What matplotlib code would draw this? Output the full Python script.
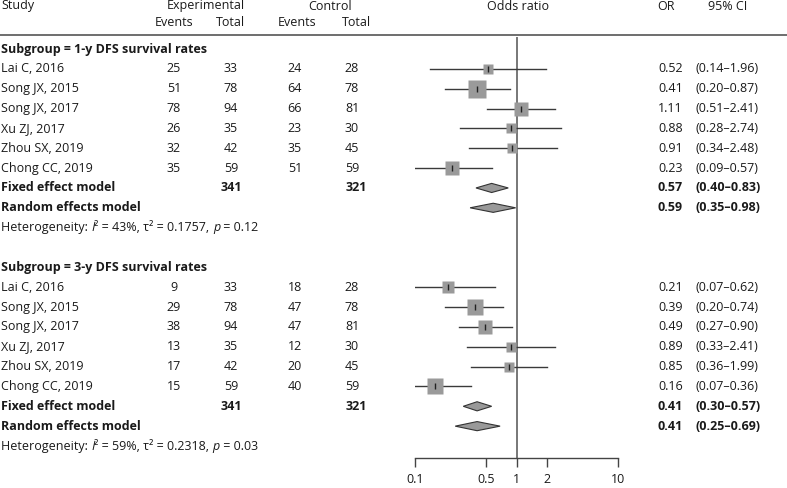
import matplotlib
matplotlib.use("Agg")
import numpy as np
import matplotlib.pyplot as plt
from matplotlib.transforms import blended_transform_factory
from matplotlib.lines import Line2D

plt.rcParams['font.family'] = ['Open Sans', 'DejaVu Sans']

# data
studies = ["Lai C, 2016", "Song JX, 2015", "Song JX, 2017",
           "Xu ZJ, 2017", "Zhou SX, 2019", "Chong CC, 2019"]
exp_total = [33, 78, 94, 35, 42, 59]
ctrl_total = [28, 78, 81, 30, 45, 59]

subgroups = ["1-y DFS survival rates", "3-y DFS survival rates"]
exp_events = [[25, 51, 78, 26, 32, 35], [9, 29, 38, 13, 17, 15]]
ctrl_events = [[24, 64, 66, 23, 35, 51], [18, 47, 47, 12, 20, 40]]
odds = [[0.52, 0.41, 1.11, 0.88, 0.91, 0.23], [0.21, 0.39, 0.49, 0.89, 0.85, 0.16]]
ci_lo = [[0.14, 0.20, 0.51, 0.28, 0.34, 0.09], [0.07, 0.20, 0.27, 0.33, 0.36, 0.07]]
ci_hi = [[1.96, 0.87, 2.41, 2.74, 2.48, 0.57], [0.62, 0.74, 0.90, 2.41, 1.99, 0.36]]
weights = [[10, 29, 17, 10, 12, 22], [13, 24, 21, 9, 10, 24]]

fixed_or = [0.57, 0.41]
fixed_lo = [0.40, 0.30]
fixed_hi = [0.83, 0.57]
random_or = [0.59, 0.41]
random_lo = [0.35, 0.25]
random_hi = [0.98, 0.69]
het_i2 = ["43%", "59%"]
het_tau2 = ["0.1757", "0.2318"]
het_p = ["0.12", "0.03"]

ticks = [0.1, 0.5, 1, 2, 10]

W, H = 787, 488
ROW = 19.85      # px per row
Y0 = 49          # px of row 0
fig = plt.figure(figsize=(W / 100, H / 100), dpi=100)
ax = fig.add_axes([414.7 / W, 0, 203.6 / W, 1])
ax.set_xscale('log')
ax.set_xlim(0.1, 10)
ax.set_ylim((H - Y0) / ROW, -Y0 / ROW)

tr = blended_transform_factory(fig.transFigure, ax.transData)
txt_col = '#1a1a1a'
fs = 9.0

def put(xpx, row, s, ha='left', bold=False, **kw):
    return ax.text(xpx / W, row, s, transform=tr, ha=ha, va='center', fontsize=fs,
                   color=txt_col, fontweight='bold' if bold else 'normal', **kw)

def put_chain(xpx, row, parts):
    # pieces of text, each one starting where the one before ends
    prev = put(xpx, row, parts[0][0], style=parts[0][1])
    for s, st in parts[1:]:
        prev = ax.annotate(s, xy=(1, 0), xycoords=prev, ha='left', va='bottom',
                           fontsize=fs, color=txt_col, style=st)

# headers
hdr_row1 = (6 - Y0) / ROW
hdr_row2 = (22 - Y0) / ROW
put(1, hdr_row1, "Study")
put(206, hdr_row1, "Experimental", ha='center')
put(330, hdr_row1, "Control", ha='center')
put(174, hdr_row2, "Events", ha='center')
put(231, hdr_row2, "Total", ha='center')
put(297, hdr_row2, "Events", ha='center')
put(357, hdr_row2, "Total", ha='center')
put(518, hdr_row1, "Odds ratio", ha='center')
put(666, hdr_row1, "OR", ha='center')
put(728, hdr_row1, "95% CI", ha='center')
fig.add_artist(Line2D([0, 1], [1 - 35 / H] * 2, color='#555555', lw=1.2))

row = 0
for g in range(2):
    put(1, row, "Subgroup = " + subgroups[g], bold=True)
    row += 1
    for i, name in enumerate(studies):
        put(1, row, name)
        put(174, row, str(exp_events[g][i]), ha='center')
        put(231, row, str(exp_total[i]), ha='center')
        put(295, row, str(ctrl_events[g][i]), ha='center')
        put(352, row, str(ctrl_total[i]), ha='center')
        put(683, row, f"{odds[g][i]:.2f}", ha='right')
        put(696, row, f"({ci_lo[g][i]:.2f}\u2013{ci_hi[g][i]:.2f})")
        ax.plot([ci_lo[g][i], ci_hi[g][i]], [row, row], color='#3a3a3a', lw=1.0, zorder=2)
        side = 3.16 * np.sqrt(weights[g][i]) * 0.72
        ax.plot(odds[g][i], row, marker='s', ms=side, color='#9a9a9a', mec='none', zorder=3)
        ax.plot(odds[g][i], row, marker='|', ms=5, mew=1.0, color='#222222', zorder=4)
        row += 1
    for lab, o, lo, hi, tot in [("Fixed effect model", fixed_or[g], fixed_lo[g], fixed_hi[g], True),
                                ("Random effects model", random_or[g], random_lo[g], random_hi[g], False)]:
        put(1, row, lab, bold=True)
        if tot:
            put(231, row, str(sum(exp_total)), ha='center', bold=True)
            put(356, row, str(sum(ctrl_total)), ha='center', bold=True)
        put(683, row, f"{o:.2f}", ha='right', bold=True)
        put(696, row, f"({lo:.2f}\u2013{hi:.2f})", bold=True)
        h = 0.23
        ax.fill([lo, o, hi, o], [row, row - h, row, row + h], facecolor='#999999',
                edgecolor='#333333', lw=0.8, zorder=3)
        row += 1
    put_chain(1, row, [("Heterogeneity: ", 'normal'), ("I", 'italic'),
                       ("\u00b2 = " + het_i2[g] + ", \u03c4\u00b2 = " + het_tau2[g] + ", ", 'normal'),
                       ("p", 'italic'), (" = " + het_p[g], 'normal')])
    row += 2

axis_row = (458 - Y0) / ROW
ax.plot([1, 1], [(38 - Y0) / ROW, axis_row], color='#777777', lw=1.4, zorder=1)

for s in ['top', 'right', 'left']:
    ax.spines[s].set_visible(False)
ax.spines['bottom'].set_position(('data', axis_row))
ax.spines['bottom'].set_bounds(0.1, 10)
ax.spines['bottom'].set_color('#444444')
ax.spines['bottom'].set_linewidth(1.0)
ax.set_xticks(ticks)
ax.set_xticklabels([f"{t:g}" for t in ticks])
ax.xaxis.set_minor_locator(matplotlib.ticker.NullLocator())
ax.tick_params(axis='x', direction='out', length=6.5, width=1.0, color='#444444',
               labelsize=fs, labelcolor=txt_col, pad=4)
ax.set_yticks([])
ax.patch.set_visible(False)

fig.savefig("out.png", dpi=100)
